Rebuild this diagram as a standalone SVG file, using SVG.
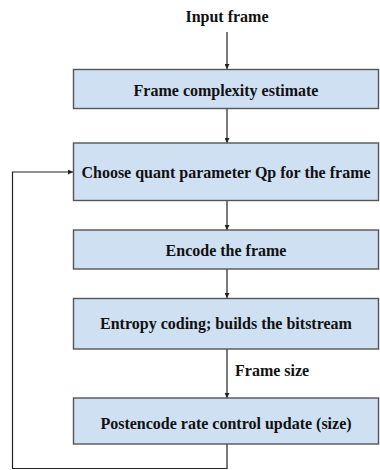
<svg xmlns="http://www.w3.org/2000/svg" width="380" height="470" viewBox="0 0 380 470">
<style>
.box{fill:#cfe0f3;stroke:#555;stroke-width:1.4}
.t{font-family:"Liberation Serif","Times New Roman",serif;font-weight:bold;font-size:16px;fill:#111;text-anchor:middle}
.l{font-family:"Liberation Serif","Times New Roman",serif;font-weight:bold;font-size:16px;fill:#111}
.c{fill:none;stroke:#222;stroke-width:1.2}
</style>
<defs>
<marker id="a" viewBox="0 0 10 10" refX="10" refY="5" markerWidth="5" markerHeight="5" orient="auto" markerUnits="userSpaceOnUse">
<path d="M0,0 L10,5 L0,10 z" fill="#222"/>
</marker>
</defs>
<text class="t" x="227" y="22">Input frame</text>
<g id="connectors">
<path class="c" d="M227,32 V69" marker-end="url(#a)"/>
<path class="c" d="M227,109 V143" marker-end="url(#a)"/>
<path class="c" d="M227,201 V230" marker-end="url(#a)"/>
<path class="c" d="M227,269 V298" marker-end="url(#a)"/>
<path class="c" d="M227,349 V398" marker-end="url(#a)"/>
<path class="c" d="M227,444 V468.5 H12.5 V172 H73" marker-end="url(#a)"/>
<text class="l" x="235" y="375.5">Frame size</text>
</g>
<g id="n1"><rect class="box" x="73.5" y="69.5" width="305" height="39"/><text class="t" x="226" y="95.5">Frame complexity estimate</text></g>
<g id="n2"><rect class="box" x="73.5" y="143" width="305" height="57.5"/><text class="t" x="226" y="177.5">Choose quant parameter Qp for the frame</text></g>
<g id="n3"><rect class="box" x="73.5" y="230" width="305" height="39"/><text class="t" x="226" y="255.5">Encode the frame</text></g>
<g id="n4"><rect class="box" x="73.5" y="298.5" width="305" height="50.5"/><text class="t" x="226" y="328.5">Entropy coding; builds the bitstream</text></g>
<g id="n5"><rect class="box" x="73.5" y="398" width="305" height="46"/><text class="t" x="226" y="429">Postencode rate control update (size)</text></g>
</svg>
